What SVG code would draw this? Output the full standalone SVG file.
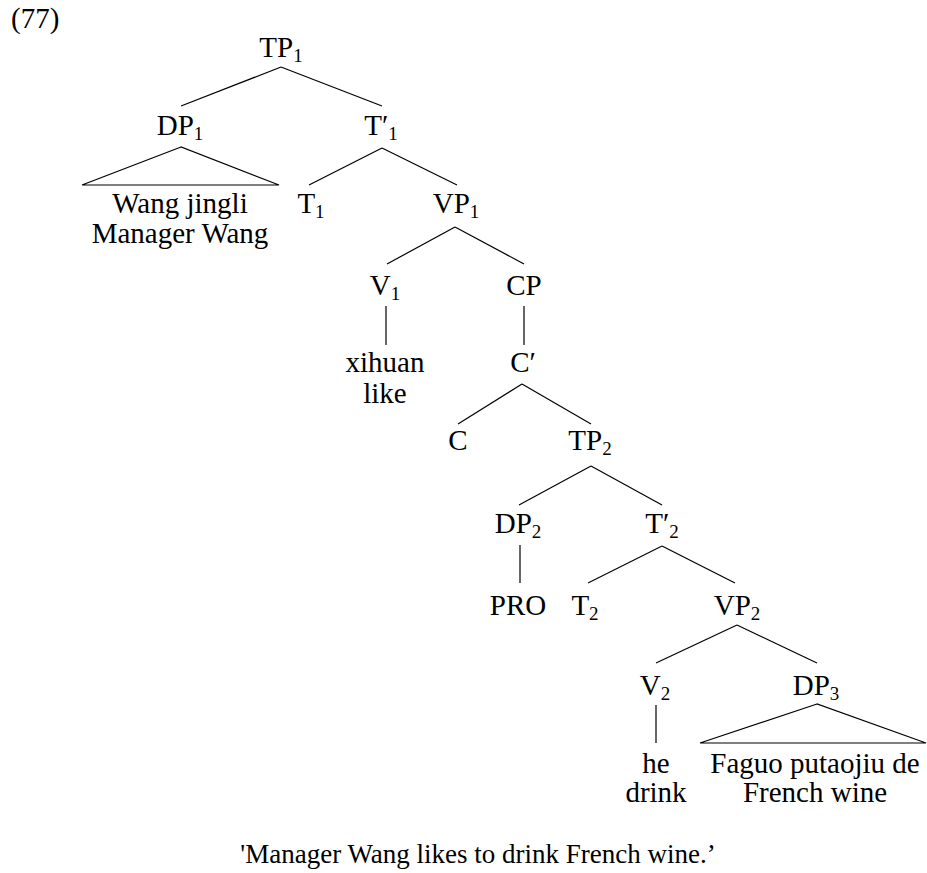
<svg xmlns="http://www.w3.org/2000/svg" width="927" height="873" viewBox="0 0 927 873">
<style>
text{font-family:"Liberation Serif","Times New Roman","DejaVu Serif",serif;font-size:29px;fill:#000;text-anchor:middle}
.s{font-size:19px}
.l{text-anchor:start}
.cap{font-size:27px}
line,polygon{stroke:#000;stroke-width:1.2;fill:none}
</style>
<rect width="927" height="873" fill="#fff"/>
<text class="l" x="11" y="28">(77)</text>
<g id="connectors">
<line x1="281" y1="67" x2="181" y2="106"/><line x1="281" y1="67" x2="382" y2="106"/>
<polygon points="181,147 82,185 279,185"/>
<line x1="382" y1="148" x2="309" y2="185"/><line x1="382" y1="148" x2="457" y2="185"/>
<line x1="455" y1="227" x2="387" y2="264"/><line x1="455" y1="227" x2="524" y2="264"/>
<line x1="386" y1="306" x2="386" y2="345"/>
<line x1="524" y1="306" x2="524" y2="345"/>
<line x1="522" y1="384" x2="458" y2="424"/><line x1="522" y1="384" x2="591" y2="424"/>
<line x1="591" y1="466" x2="519" y2="505"/><line x1="591" y1="466" x2="662" y2="505"/>
<line x1="520" y1="545" x2="520" y2="583"/>
<line x1="662" y1="546" x2="588" y2="583"/><line x1="662" y1="546" x2="735" y2="583"/>
<line x1="737" y1="625" x2="656" y2="663"/><line x1="737" y1="625" x2="817" y2="663"/>
<line x1="656" y1="705" x2="656" y2="743"/>
<polygon points="817,704 700,743 926,743"/>
</g>
<g id="TP1"><text x="281" y="57">TP<tspan class="s" dy="5">1</tspan></text></g>
<g id="DP1"><text x="180" y="135">DP<tspan class="s" dy="5">1</tspan></text></g>
<g id="T1bar"><text x="381" y="135">T′<tspan class="s" dy="5">1</tspan></text></g>
<g id="DP1text"><text x="180" y="213">Wang jingli</text><text x="180" y="243">Manager Wang</text></g>
<g id="T1"><text x="311" y="213">T<tspan class="s" dy="5">1</tspan></text></g>
<g id="VP1"><text x="456" y="213">VP<tspan class="s" dy="5">1</tspan></text></g>
<g id="V1"><text x="385" y="295">V<tspan class="s" dy="5">1</tspan></text></g>
<g id="CP"><text x="524" y="295">CP</text></g>
<g id="xihuan"><text x="385" y="372">xihuan</text><text x="385" y="403">like</text></g>
<g id="Cbar"><text x="523" y="372">C′</text></g>
<g id="C"><text x="458" y="450">C</text></g>
<g id="TP2"><text x="590" y="450">TP<tspan class="s" dy="5">2</tspan></text></g>
<g id="DP2"><text x="518" y="533">DP<tspan class="s" dy="5">2</tspan></text></g>
<g id="T2bar"><text x="662" y="533">T′<tspan class="s" dy="5">2</tspan></text></g>
<g id="PRO"><text x="518" y="615">PRO</text></g>
<g id="T2"><text x="585" y="615">T<tspan class="s" dy="5">2</tspan></text></g>
<g id="VP2"><text x="737" y="615">VP<tspan class="s" dy="5">2</tspan></text></g>
<g id="V2"><text x="655" y="695">V<tspan class="s" dy="5">2</tspan></text></g>
<g id="DP3"><text x="816" y="695">DP<tspan class="s" dy="5">3</tspan></text></g>
<g id="he"><text x="656" y="773">he</text><text x="656" y="802">drink</text></g>
<g id="DP3text"><text x="815" y="773">Faguo putaojiu de</text><text x="815" y="802">French wine</text></g>
<text class="cap" x="478" y="863">'Manager Wang likes to drink French wine.’</text>
</svg>
